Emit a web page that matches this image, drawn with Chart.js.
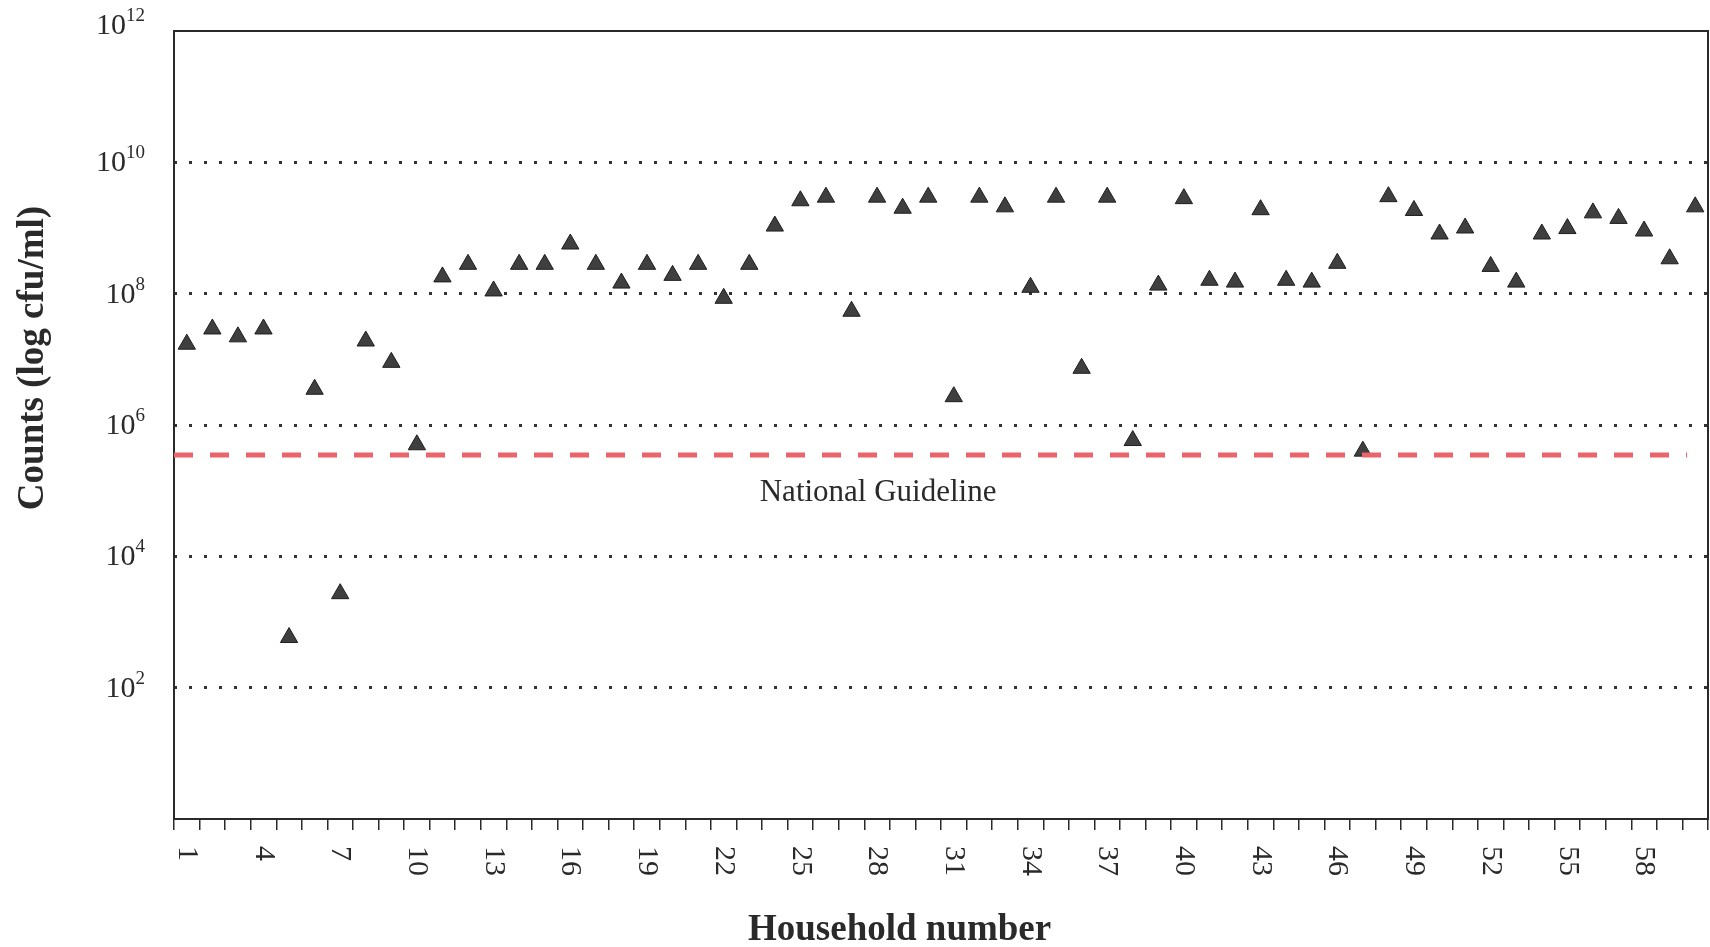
<!DOCTYPE html>
<html>
<head>
<meta charset="utf-8">
<script src="https://cdn.jsdelivr.net/npm/chart.js@4.4.1/dist/chart.umd.min.js"></script>
<style>
  html, body { margin: 0; padding: 0; overflow: hidden; background: #fff; }
  canvas { display: block; }
</style>
</head>
<body>
<canvas id="countsChart" width="1710" height="947"></canvas>
<script>
// households 1..60
var households = [];
for (var i = 1; i <= 60; i++) households.push(String(i));

// counts per household (cfu/ml)
var counts = [
    1.7e7, 2.9e7, 2.2e7, 2.9e7, 5.8e2, 3.5e6, 2.7e3, 1.9e7, 9.0e6, 5.0e5,
    1.8e8, 2.8e8, 1.1e8, 2.8e8, 2.8e8, 5.7e8, 2.8e8, 1.45e8, 2.8e8, 1.9e8,
    2.8e8, 8.5e7, 2.8e8, 1.07e9, 2.6e9, 2.95e9, 5.4e7, 2.95e9, 2.0e9, 2.95e9,
    2.7e6, 2.95e9, 2.1e9, 1.25e8, 2.95e9, 7.3e6, 2.95e9, 5.8e5, 1.35e8, 2.8e9,
    1.6e8, 1.5e8, 1.9e9, 1.6e8, 1.5e8, 2.9e8, 4.0e5, 3.0e9, 1.85e9, 8.1e8,
    1.0e9, 2.6e8, 1.5e8, 8.1e8, 9.8e8, 1.7e9, 1.4e9, 9.0e8, 3.4e8, 2.1e9
];

var guideline = 3.5e5;
var guidelineLabel = 'National Guideline';

var decadeTicks = [1, 1e2, 1e4, 1e6, 1e8, 1e10, 1e12];
var labelEvery = 3;

var serif = "'Liberation Serif', 'Times New Roman', serif";
var ink = '#2a2a2a';

// frame, tick labels with superscripts, titles and the guideline
var decorations = {
    id: 'decorations',
    beforeDatasetsDraw: function(chart) {
        var ctx = chart.ctx;
        var area = chart.chartArea;
        ctx.save();
        ctx.strokeStyle = ink;
        ctx.lineWidth = 2;
        ctx.strokeRect(area.left, area.top, area.right - area.left, area.bottom - area.top);
        ctx.restore();
    },
    afterDatasetsDraw: function(chart) {
        var ctx = chart.ctx;
        var area = chart.chartArea;
        var yScale = chart.scales.y;
        var gy = yScale.getPixelForValue(guideline);

        ctx.save();
        ctx.strokeStyle = '#e9656b';
        ctx.lineWidth = 5;
        ctx.setLineDash([19, 17]);
        ctx.beginPath();
        ctx.moveTo(area.left, gy);
        ctx.lineTo(area.right - 21, gy);
        ctx.stroke();
        ctx.setLineDash([]);

        ctx.fillStyle = ink;
        ctx.font = '31px ' + serif;
        ctx.textAlign = 'center';
        ctx.textBaseline = 'middle';
        ctx.fillText(guidelineLabel, area.left + 0.459 * (area.right - area.left), gy + 38);
        ctx.restore();
    },
    afterDraw: function(chart) {
        var ctx = chart.ctx;
        var area = chart.chartArea;
        var xScale = chart.scales.x;
        var yScale = chart.scales.y;

        ctx.save();
        ctx.fillStyle = ink;

        // y tick labels as 10 with a raised exponent
        var right = area.left - 29;
        decadeTicks.forEach(function(v) {
            if (v < 100) return;
            var y = yScale.getPixelForValue(v) + 1;
            if (v === 1e12) y -= 6;
            var exp = String(Math.round(Math.log10(v)));
            ctx.font = '19px ' + serif;
            var ew = ctx.measureText(exp).width;
            ctx.textAlign = 'left';
            ctx.textBaseline = 'alphabetic';
            ctx.fillText(exp, right - ew, y - 5);
            ctx.font = '30px ' + serif;
            ctx.textAlign = 'right';
            ctx.textBaseline = 'middle';
            ctx.fillText('10', right - ew, y);
        });

        // x tick labels, turned to read downwards
        ctx.font = '30px ' + serif;
        ctx.textAlign = 'left';
        ctx.textBaseline = 'middle';
        households.forEach(function(h, i) {
            if (i % labelEvery !== 0) return;
            ctx.save();
            ctx.translate(xScale.getPixelForValue(i), area.bottom + 27);
            ctx.rotate(Math.PI / 2);
            ctx.fillText(h, 0, 0);
            ctx.restore();
        });

        // axis titles
        ctx.font = 'bold 37px ' + serif;
        ctx.textAlign = 'center';
        ctx.textBaseline = 'middle';
        ctx.fillText('Household number', area.left + 0.473 * (area.right - area.left), 930);

        ctx.save();
        ctx.translate(33, area.top + 0.415 * (area.bottom - area.top));
        ctx.rotate(-Math.PI / 2);
        ctx.fillText('Counts (log cfu/ml)', 0, 0);
        ctx.restore();

        ctx.restore();
    }
};

var countsChart = new Chart(document.getElementById('countsChart'), {
    type: 'line',
    data: {
        labels: households,
        datasets: [{
            label: 'Counts',
            data: counts,
            showLine: false,
            pointStyle: 'triangle',
            pointRadius: 10,
            pointBackgroundColor: '#3f3f3f',
            pointBorderColor: '#1e1e1e',
            pointBorderWidth: 1
        }]
    },
    options: {
        responsive: false,
        animation: false,
        layout: {
            autoPadding: false,
            padding: { top: 31, right: 2, left: 0, bottom: 0 }
        },
        plugins: {
            legend: { display: false },
            tooltip: { enabled: false }
        },
        scales: {
            x: {
                offset: true,
                ticks: { display: false, autoSkip: false },
                grid: {
                    offset: true,
                    drawOnChartArea: false,
                    drawTicks: true,
                    tickLength: 11,
                    color: ink,
                    lineWidth: 1.5
                },
                border: { display: false },
                afterFit: function(scale) { scale.height = 128; }
            },
            y: {
                type: 'logarithmic',
                min: 1,
                max: 1e12,
                afterBuildTicks: function(scale) {
                    scale.ticks = decadeTicks.map(function(v) { return { value: v }; });
                },
                ticks: { display: false },
                grid: {
                    color: function(c) {
                        var v = c.tick ? c.tick.value : 0;
                        return (v > 1 && v < 1e12) ? '#333' : 'rgba(0,0,0,0)';
                    },
                    lineWidth: 3,
                    drawTicks: false,
                    borderDash: [3, 12]
                },
                border: { display: false, dash: [3, 12] },
                afterFit: function(scale) { scale.width = 174; }
            }
        }
    },
    plugins: [decorations]
});
</script>
</body>
</html>
